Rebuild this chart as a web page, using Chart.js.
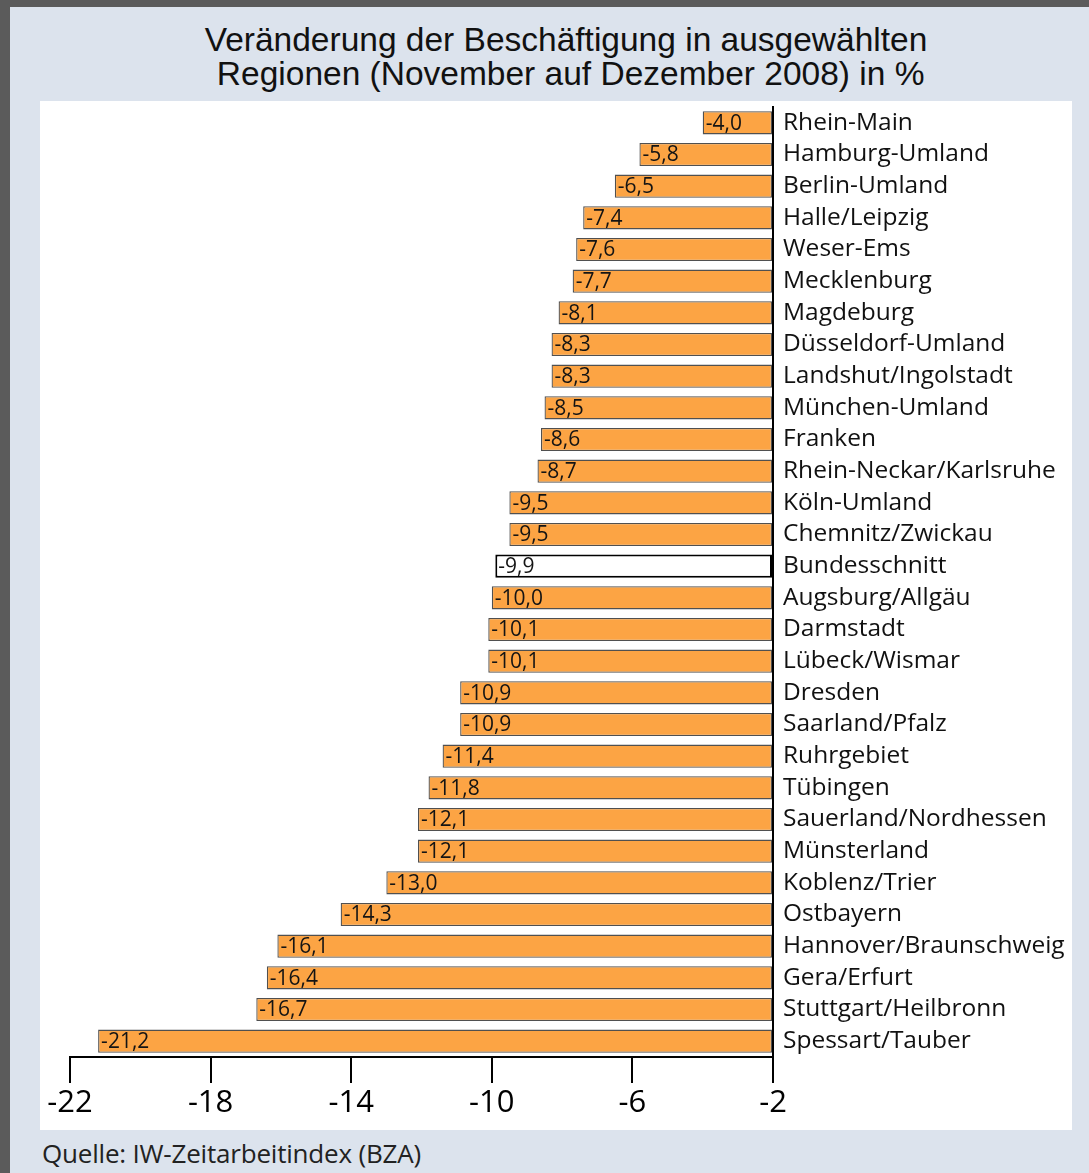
<!DOCTYPE html>
<html>
<head>
<meta charset="utf-8">
<script src="https://cdn.jsdelivr.net/npm/chart.js@4"></script>
<style>
    body { margin: 0; }
    .frame {
        position: relative;
        width: 1089px;
        height: 1173px;
        box-sizing: border-box;
        background: #dce3ed;
        border-top: 7px solid #5b5b5b;
        border-left: 10px solid #5b5b5b;
        overflow: hidden;
    }
    .title {
        position: absolute;
        left: 0;
        top: 16px;
        width: 1112px;
        text-align: center;
        font-family: "Liberation Sans", Arial, sans-serif;
        font-size: 33.5px;
        line-height: 34px;
        color: #111;
    }
    .plot {
        position: absolute;
        left: 30px;
        top: 94px;
        width: 1032px;
        height: 1029px;
        background: #fff;
    }
    .source {
        position: absolute;
        left: 32px;
        top: 1128px;
        font-family: "Open Sans", sans-serif;
        font-size: 26px;
        color: #222;
        letter-spacing: -0.2px;
    }
</style>
</head>
<body>
<div class="frame">
    <div class="title">Veränderung der Beschäftigung in ausgewählten<br>&nbsp;Regionen (November auf Dezember 2008) in %</div>
    <div class="plot"><canvas id="chart" width="1032" height="1029"></canvas></div>
    <div class="source">Quelle: IW-Zeitarbeitindex (BZA)</div>
</div>
<script>
// Regionen von oben nach unten
const regions = [
    'Rhein-Main', 'Hamburg-Umland', 'Berlin-Umland', 'Halle/Leipzig', 'Weser-Ems',
    'Mecklenburg', 'Magdeburg', 'Düsseldorf-Umland', 'Landshut/Ingolstadt', 'München-Umland',
    'Franken', 'Rhein-Neckar/Karlsruhe', 'Köln-Umland', 'Chemnitz/Zwickau', 'Bundesschnitt',
    'Augsburg/Allgäu', 'Darmstadt', 'Lübeck/Wismar', 'Dresden', 'Saarland/Pfalz',
    'Ruhrgebiet', 'Tübingen', 'Sauerland/Nordhessen', 'Münsterland', 'Koblenz/Trier',
    'Ostbayern', 'Hannover/Braunschweig', 'Gera/Erfurt', 'Stuttgart/Heilbronn', 'Spessart/Tauber'
];
const changes = [
    -4.0, -5.8, -6.5, -7.4, -7.6,
    -7.7, -8.1, -8.3, -8.3, -8.5,
    -8.6, -8.7, -9.5, -9.5, -9.9,
    -10.0, -10.1, -10.1, -10.9, -10.9,
    -11.4, -11.8, -12.1, -12.1, -13.0,
    -14.3, -16.1, -16.4, -16.7, -21.2
];
const xTicks = [-22, -18, -14, -10, -6, -2];

const orange = '#fca444';
const isAverage = regions.map(r => r === 'Bundesschnitt');

// Werte in den Balken links anzeigen
const barLabels = {
    id: 'barLabels',
    afterDatasetsDraw(chart) {
        const ctx = chart.ctx;
        const meta = chart.getDatasetMeta(0);
        ctx.save();
        ctx.font = '21px "Open Sans", sans-serif';
        ctx.fillStyle = '#141414';
        ctx.textBaseline = 'middle';
        ctx.textAlign = 'left';
        meta.data.forEach((bar, i) => {
            const left = Math.min(bar.x, bar.base);
            ctx.fillText(changes[i].toFixed(1).replace('.', ','), left + 3, bar.y + 1);
        });
        ctx.restore();
    }
};

new Chart(document.getElementById('chart').getContext('2d'), {
    type: 'bar',
    data: {
        labels: regions,
        datasets: [{
            data: changes,
            base: -2,
            backgroundColor: isAverage.map(a => a ? '#ffffff' : orange),
            borderColor: isAverage.map(a => a ? '#000000' : '#505050'),
            borderWidth: isAverage.map(a => a ? 2 : 1.3),
            borderSkipped: false,
            categoryPercentage: 1,
            barPercentage: 0.73
        }]
    },
    options: {
        indexAxis: 'y',
        responsive: false,
        animation: false,
        layout: { padding: { left: 30, top: 6, right: 0, bottom: 0 } },
        plugins: {
            legend: { display: false },
            tooltip: { enabled: false }
        },
        scales: {
            x: {
                position: 'bottom',
                min: -22,
                max: -2,
                afterBuildTicks: scale => { scale.ticks = xTicks.map(v => ({ value: v })); },
                afterFit: scale => { scale.height = 73; },
                grid: {
                    drawOnChartArea: false,
                    drawTicks: true,
                    tickLength: 26,
                    color: '#000',
                    lineWidth: 2
                },
                border: { display: true, color: '#000', width: 2 },
                ticks: {
                    color: '#000',
                    padding: 2,
                    maxRotation: 0,
                    font: { family: 'Open Sans', size: 31 }
                }
            },
            y: {
                position: 'right',
                afterFit: scale => {
                    scale.width = 299;
                    scale.paddingTop = 0;
                    scale.paddingBottom = 0;
                },
                grid: { display: false },
                border: { display: true, color: '#000', width: 2 },
                ticks: {
                    color: '#111',
                    padding: 2,
                    autoSkip: false,
                    font: { family: 'Open Sans', size: 24.5 }
                }
            }
        }
    },
    plugins: [barLabels]
});
</script>
</body>
</html>
